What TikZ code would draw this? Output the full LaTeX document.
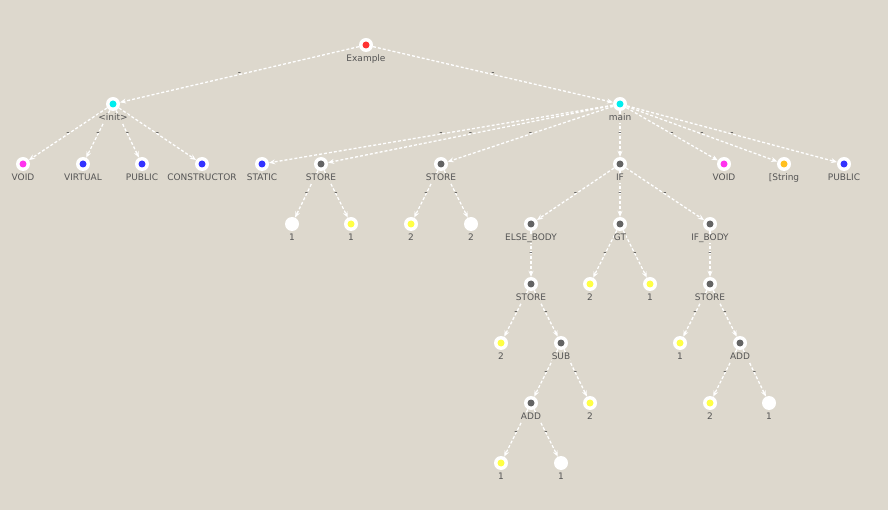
\documentclass[tikz,border=0pt]{standalone}
\usepackage{fontspec}
\setmainfont{DejaVu Sans}
\usetikzlibrary{arrows.meta, backgrounds}
\definecolor{cBg}{RGB}{221,216,205}
\definecolor{cText}{RGB}{85,85,85}
\definecolor{cMinus}{RGB}{60,60,60}
\definecolor{cRed}{RGB}{255,51,51}
\definecolor{cCyan}{RGB}{0,238,238}
\definecolor{cMag}{RGB}{255,51,238}
\definecolor{cBlue}{RGB}{51,51,255}
\definecolor{cGray}{RGB}{100,100,100}
\definecolor{cYellow}{RGB}{255,255,68}
\definecolor{cOrange}{RGB}{255,192,32}
\tikzset{
	tn/.style       ={circle, fill=white, minimum size=14pt, inner sep=0pt,
	                  path picture={\fill[#1] (path picture bounding box.center) circle (3.5pt);}},
	tn/.default     =white,
	lbltext/.style  ={text=cText, fill=cBg, inner sep=0pt, text height=7pt, text depth=2pt, label distance=2.3pt},
	lbl/.style      ={label={[lbltext]below:#1}},
	% connectors
	astedge/.style  ={draw=white, line width=1.3pt, dash pattern=on 3pt off 2pt, -{Stealth[length=6pt, width=5pt]}},
	minus/.style    ={midway, text=cMinus, inner sep=0pt},
}
\begin{document}
\begin{tikzpicture}[x=1pt, y=-1pt, every node/.style={font=\fontsize{9}{10}\selectfont}]
	% root and methods
	\node[tn=cRed, lbl=Example] (ex) at (366,45) {};
	\node[tn=cCyan, lbl={<init>}] (init) at (113,104) {};
	\node[tn=cCyan, lbl=main] (main) at (620,104) {};
	% modifiers and body
	\node[tn=cMag, lbl=VOID] (ivoid) at (23,164) {};
	\node[tn=cBlue, lbl=VIRTUAL] (ivirt) at (83,164) {};
	\node[tn=cBlue, lbl=PUBLIC] (ipub) at (142,164) {};
	\node[tn=cBlue, lbl=CONSTRUCTOR] (icons) at (202,164) {};
	\node[tn=cBlue, lbl=STATIC] (mstat) at (262,164) {};
	\node[tn=cGray, lbl=STORE] (sta) at (321,164) {};
	\node[tn=cGray, lbl=STORE] (stb) at (441,164) {};
	\node[tn=cGray, lbl=IF] (mif) at (620,164) {};
	\node[tn=cMag, lbl=VOID] (mvoid) at (724,164) {};
	\node[tn=cOrange, lbl={{[}String}] (mstr) at (784,164) {};
	\node[tn=cBlue, lbl=PUBLIC] (mpub) at (844,164) {};
	\node[tn, lbl=1] (sta1) at (292,224) {};
	\node[tn=cYellow, lbl=1] (sta2) at (351,224) {};
	\node[tn=cYellow, lbl=2] (stb1) at (411,224) {};
	\node[tn, lbl=2] (stb2) at (471,224) {};
	\node[tn=cGray, lbl=ELSE\_BODY] (else) at (531,224) {};
	\node[tn=cGray, lbl=GT] (gt) at (620,224) {};
	\node[tn=cGray, lbl=IF\_BODY] (ifb) at (710,224) {};
	\node[tn=cGray, lbl=STORE] (stc) at (531,284) {};
	\node[tn=cYellow, lbl=2] (gt1) at (590,284) {};
	\node[tn=cYellow, lbl=1] (gt2) at (650,284) {};
	\node[tn=cGray, lbl=STORE] (std) at (710,284) {};
	\node[tn=cYellow, lbl=2] (stc1) at (501,343) {};
	\node[tn=cGray, lbl=SUB] (sub) at (561,343) {};
	\node[tn=cYellow, lbl=1] (std1) at (680,343) {};
	\node[tn=cGray, lbl=ADD] (adda) at (740,343) {};
	\node[tn=cGray, lbl=ADD] (addb) at (531,403) {};
	\node[tn=cYellow, lbl=2] (sub2) at (590,403) {};
	\node[tn=cYellow, lbl=2] (adda1) at (710,403) {};
	\node[tn, lbl=1] (adda2) at (769,403) {};
	\node[tn=cYellow, lbl=1] (addb1) at (501,463) {};
	\node[tn, lbl=1] (addb2) at (561,463) {};
	% connectors, behind the labels
	\begin{scope}[on background layer]
	\fill[cBg] (0,0) rectangle (888,510);
	\draw[astedge] (ex) -- node[minus]{-} (init); \draw[astedge] (ex) -- node[minus]{-} (main);
	\draw[astedge] (init) -- node[minus]{-} (ivoid); \draw[astedge] (init) -- node[minus]{-} (ivirt);
	\draw[astedge] (init) -- node[minus]{-} (ipub); \draw[astedge] (init) -- node[minus]{-} (icons);
	\draw[astedge] (main) -- node[minus]{-} (mstat); \draw[astedge] (main) -- node[minus]{-} (sta);
	\draw[astedge] (main) -- node[minus]{-} (stb); \draw[astedge] (main) -- node[minus]{-} (mif);
	\draw[astedge] (main) -- node[minus]{-} (mvoid); \draw[astedge] (main) -- node[minus]{-} (mstr);
	\draw[astedge] (main) -- node[minus]{-} (mpub);
	\draw[astedge] (sta) -- node[minus]{-} (sta1); \draw[astedge] (sta) -- node[minus]{-} (sta2);
	\draw[astedge] (stb) -- node[minus]{-} (stb1); \draw[astedge] (stb) -- node[minus]{-} (stb2);
	\draw[astedge] (mif) -- node[minus]{-} (else); \draw[astedge] (mif) -- node[minus]{-} (gt);
	\draw[astedge] (mif) -- node[minus]{-} (ifb);
	\draw[astedge] (else) -- node[minus]{-} (stc);
	\draw[astedge] (gt) -- node[minus]{-} (gt1); \draw[astedge] (gt) -- node[minus]{-} (gt2);
	\draw[astedge] (ifb) -- node[minus]{-} (std);
	\draw[astedge] (stc) -- node[minus]{-} (stc1); \draw[astedge] (stc) -- node[minus]{-} (sub);
	\draw[astedge] (sub) -- node[minus]{-} (addb); \draw[astedge] (sub) -- node[minus]{-} (sub2);
	\draw[astedge] (std) -- node[minus]{-} (std1); \draw[astedge] (std) -- node[minus]{-} (adda);
	\draw[astedge] (adda) -- node[minus]{-} (adda1); \draw[astedge] (adda) -- node[minus]{-} (adda2);
	\draw[astedge] (addb) -- node[minus]{-} (addb1); \draw[astedge] (addb) -- node[minus]{-} (addb2);
	\end{scope}
	\useasboundingbox (0,0) rectangle (888,510);
\end{tikzpicture}
\end{document}
